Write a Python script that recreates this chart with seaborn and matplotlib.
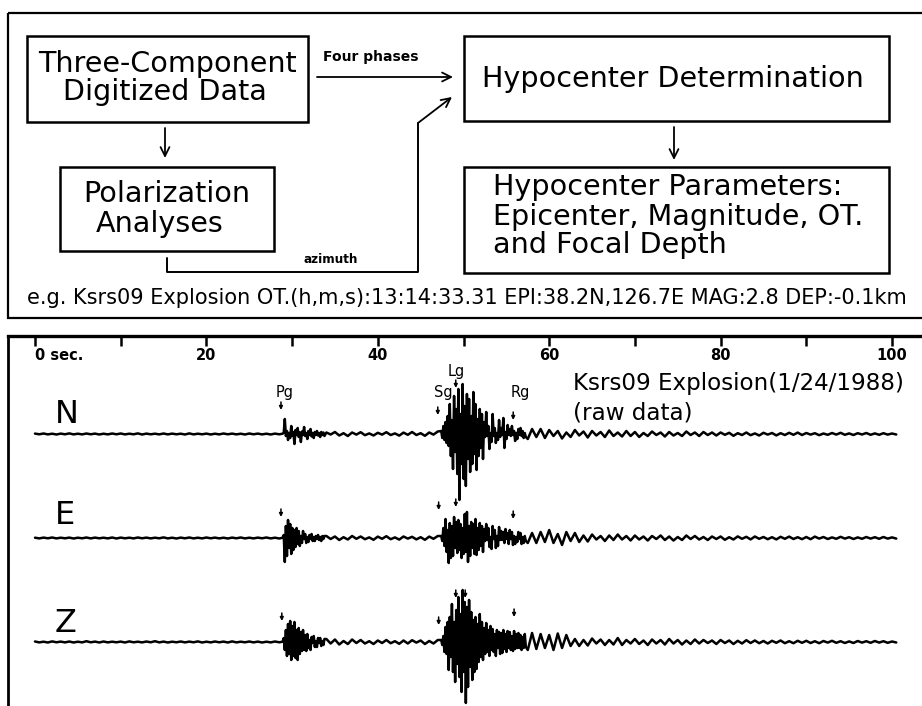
import numpy as np
import pandas as pd
import matplotlib
matplotlib.use("Agg")
import matplotlib.pyplot as plt
from matplotlib.patches import Rectangle
import seaborn as sns

# ---------------------------------------------------------------------------
# Seismogram data.
# Background series: successive peak / trough amplitudes (display units),
# one value every DT seconds from 0 s.  The phase windows are sampled more
# finely (DT_FINE) and replace the background inside their time span.
# ---------------------------------------------------------------------------
DT = 0.5
DT_FINE = 0.125

north = [
    0.4, -0.3, 0.5, -0.4, 0.3, -0.5, 0.4, -0.3, 0.6, -0.4, 0.3, -0.4, 0.5, -0.3, 0.4, -0.5, 0.3, -0.4, 0.5, -0.3,
    0.5, -0.4, 0.3, -0.3, 0.6, -0.5, 0.4, -0.3, 0.3, -0.4, 0.5, -0.4, 0.4, -0.3, 0.3, -0.5, 0.6, -0.4, 0.3, -0.3,
    0.4, -0.5, 0.3, -0.4, 0.5, -0.3, 0.4, -0.4, 0.3, -0.5, 0.5, -0.3, 0.4, -0.4, 0.3, -0.5, 0.4, -0.3, 15.0, -9.0,
    8.0, -10.0, 6.0, -8.0, 7.0, -6.0, 5.0, -7.0, 1.5, -0.5, 2.0, -1.5, 0.8, -2.0, 1.5, -0.6, 1.8, -1.2, 0.6, -1.5,
    1.2, -0.6, 1.8, -1.0, 0.6, -1.6, 1.4, -0.8, 2.0, -1.0, 0.8, -1.8, 1.5, -0.6, 2.5, -3.0, 22.0, -30.0, 45.0, -66.0,
    48.0, -42.0, 35.0, -36.0, 22.0, -24.0, 18.0, -15.0, 16.0, -12.0, 15.0, -14.0, 8.0, -7.0, 6.0, -5.0, 5.0, -3.0, 5.0, -4.0,
    4.0, -2.0, 3.0, -4.5, 1.5, -3.0, 4.0, -1.5, 2.5, -3.5, 3.0, -1.5, 2.0, -3.0, 3.5, -2.0, 1.5, -2.5, 3.0, -2.0,
    2.0, -3.0, 1.0, -2.0, 2.5, -1.0, 1.5, -2.5, 2.0, -1.5, 1.0, -2.0, 2.5, -1.0, 1.5, -2.0, 2.0, -1.0, 1.5, -1.5,
    1.5, -0.8, 1.2, -1.8, 0.8, -1.0, 1.5, -1.2, 0.6, -1.5, 1.2, -0.6, 1.0, -1.4, 0.8, -1.0, 1.2, -0.8, 1.4, -1.0,
    1.0, -0.6, 0.8, -1.2, 0.5, -0.8, 1.0, -0.6, 1.2, -0.8, 0.6, -1.0, 0.8, -0.5, 1.0, -0.8, 0.6, -0.8, 0.8, -0.6, 0.5, -0.5,
]
north_pg = [
    0.3, 1.5, 15.0, -2.0, 3.0, -6.0, 1.0, -4.0,
    8.0, -1.5, 2.0, -10.0, 4.0, -1.0, 6.0, -3.0,
    1.5, -8.0, 2.5, -1.0, 7.0, -2.0, 1.0, -5.0,
    3.0, -1.0, 5.0, -2.5, 1.0, -4.0, 2.0, -1.0,
    3.0, -1.5, 1.0, -3.0, 2.0, -1.0, 1.5, -2.0,
]
north_s = [
    3.0, -4.0, 8.0, -6.0, 12.0, -9.0, 18.0, -12.0,
    30.0, -22.0, 14.0, -35.0, 38.0, -18.0, 25.0, -40.0,
    45.0, -66.0, 20.0, -30.0, 50.0, -45.0, 28.0, -52.0,
    40.0, -25.0, 35.0, -38.0, 18.0, -30.0, 42.0, -20.0,
    30.0, -36.0, 15.0, -22.0, 25.0, -14.0, 20.0, -25.0,
    12.0, -3.0, 22.0, -2.0, 8.0, -15.0, 1.0, -8.0,
    20.0, -2.0, 6.0, -9.0, 1.0, -6.0, 14.0, -3.0,
    6.0, -1.0, 16.0, -14.0, 2.0, -5.0, 9.0, -1.0,
    5.0, -2.0, 8.0, -1.0, 3.0, -7.0, 1.0, -5.0,
    5.0, -1.0, 6.0, -2.0, 3.0, -4.0, 1.0, -3.0,
]

east = [
    0.3, -0.4, 0.4, -0.3, 0.5, -0.4, 0.3, -0.3, 0.4, -0.5, 0.3, -0.3, 0.5, -0.4, 0.4, -0.3, 0.3, -0.4, 0.5, -0.5,
    0.4, -0.3, 0.3, -0.4, 0.5, -0.3, 0.4, -0.4, 0.3, -0.3, 0.6, -0.4, 0.3, -0.5, 0.4, -0.3, 0.5, -0.4, 0.3, -0.4,
    0.5, -0.3, 0.4, -0.4, 0.3, -0.5, 0.4, -0.3, 0.5, -0.4, 0.3, -0.4, 0.4, -0.3, 0.5, -0.4, 0.3, -0.5, 12.0, -24.0,
    18.0, -16.0, 10.0, -12.0, 8.0, -9.0, 6.0, -6.0, 2.0, -1.0, 1.5, -2.0, 0.8, -1.5, 2.0, -0.8, 1.5, -1.2, 0.6, -1.8,
    1.4, -0.8, 1.8, -1.2, 0.6, -1.6, 1.5, -0.6, 1.2, -1.4, 0.8, -1.8, 1.4, -0.8, 2.0, -2.0, 19.0, -25.0, 21.0, -18.0,
    24.0, -24.0, 19.0, -17.0, 14.0, -13.0, 12.0, -11.0, 10.0, -9.0, 8.0, -9.0, 7.0, -6.0, 6.0, -5.0, 5.0, -5.0, 6.0, -4.0,
    8.0, -5.0, 4.0, -7.0, 6.0, -3.0, 5.0, -4.0, 2.5, -3.5, 3.5, -1.5, 2.0, -3.0, 2.5, -2.0, 3.5, -1.5, 2.0, -2.5,
    2.5, -1.5, 1.5, -2.5, 2.0, -1.0, 2.5, -2.0, 1.5, -2.5, 1.0, -2.0, 2.5, -1.0, 2.0, -1.5, 1.0, -2.0, 1.5, -1.0,
    1.5, -1.8, 0.8, -1.5, 1.6, -0.8, 1.2, -1.4, 1.5, -0.8, 1.0, -1.2, 0.8, -1.4, 1.2, -0.8, 1.4, -1.0, 0.8, -1.2,
    1.0, -1.2, 1.4, -0.6, 1.0, -1.0, 0.6, -0.8, 1.2, -0.6, 0.8, -1.0, 0.6, -0.8, 1.0, -0.6, 0.8, -0.8, 1.0, -0.6, 0.6, -0.6,
]
east_pg = [
    0.3, 3.0, -24.0, 12.0, -18.0, 18.0, -10.0, 14.0,
    -16.0, 10.0, -12.0, 8.0, -9.0, 10.0, -6.0, 7.0,
    -8.0, 2.0, -5.0, 7.0, -1.0, 4.0, -5.0, 1.0,
    -4.0, 3.0, -1.0, 4.0, -3.0, 1.0, -3.0, 2.0,
    -1.0, 3.0, -2.0, 1.0, -3.0, 2.0, -1.0, 2.0,
]
east_s = [
    2.0, -3.0, 10.0, -8.0, 19.0, -14.0, 8.0, -25.0,
    15.0, -20.0, 12.0, -18.0, 21.0, -10.0, 16.0, -15.0,
    18.0, -12.0, 14.0, -20.0, 10.0, -16.0, 24.0, -14.0,
    26.0, -24.0, 12.0, -18.0, 16.0, -10.0, 14.0, -16.0,
    19.0, -17.0, 10.0, -12.0, 15.0, -8.0, 12.0, -14.0,
    9.0, -3.0, 14.0, -2.0, 10.0, -9.0, 1.0, -11.0,
    12.0, -1.0, 8.0, -10.0, 2.0, -8.0, 11.0, -2.0,
    7.0, -2.0, 6.0, -5.0, 9.0, -1.0, 5.0, -6.0,
    8.0, -1.0, 6.0, -7.0, 2.0, -6.0, 1.0, -4.0,
    6.0, -1.0, 5.0, -6.0, 1.0, -5.0, 2.0, -3.0,
]

vertical = [
    0.5, -0.4, 0.3, -0.5, 0.6, -0.3, 0.4, -0.4, 0.5, -0.5, 0.3, -0.4, 0.8, -0.3, 0.4, -0.5, 0.5, -0.4, 0.3, -0.3,
    0.4, -0.5, 0.6, -0.3, 0.3, -0.4, 0.5, -0.3, 0.8, -0.4, 0.4, -0.5, 0.3, -0.3, 0.5, -0.4, 0.4, -0.3, 0.6, -0.5,
    0.3, -0.4, 0.5, -0.3, 0.4, -0.5, 0.6, -0.4, 0.3, -0.3, 0.5, -0.4, 0.4, -0.5, 0.3, -0.4, 0.5, -0.3, 6.0, -14.0,
    21.0, -18.0, 14.0, -12.0, 8.0, -9.0, 7.0, -8.0, 3.0, -1.5, 2.5, -2.5, 1.0, -2.0, 2.5, -1.0, 2.0, -1.5, 0.8, -2.0,
    1.5, -1.0, 2.0, -1.2, 0.8, -1.8, 1.5, -1.5, 1.8, -0.6, 1.5, -2.0, 1.0, -1.5, 2.0, -2.0, 15.0, -28.0, 38.0, -40.0,
    52.0, -61.0, 42.0, -30.0, 28.0, -20.0, 19.0, -14.0, 14.0, -12.0, 12.0, -11.0, 10.0, -9.0, 11.0, -8.0, 9.0, -7.0, 8.0, -6.0,
    7.0, -8.0, 8.5, -6.0, 7.0, -4.0, 3.0, -4.0, 2.0, -3.5, 3.5, -1.5, 2.5, -3.0, 2.0, -2.5, 4.0, -3.0, 2.0, -1.5,
    3.0, -2.0, 1.5, -3.0, 2.5, -1.5, 2.0, -2.5, 3.0, -1.5, 2.0, -2.5, 1.5, -2.0, 2.5, -1.5, 2.0, -1.0, 1.5, -2.0,
    2.0, -1.0, 1.5, -2.0, 1.2, -1.5, 1.8, -1.0, 1.5, -1.2, 1.0, -1.5, 1.2, -0.8, 1.5, -1.2, 0.8, -1.2, 1.2, -0.8,
    1.2, -1.0, 0.8, -1.2, 1.0, -0.6, 1.2, -0.8, 0.8, -1.0, 0.6, -1.0, 1.0, -0.6, 0.8, -0.8, 1.0, -0.6, 0.8, -0.8, 0.5, -0.5,
]
vertical_pg = [
    0.3, 4.0, -8.0, 12.0, -14.0, 18.0, -12.0, 21.0,
    -18.0, 16.0, -14.0, 20.0, -16.0, 12.0, -18.0, 14.0,
    -12.0, 10.0, -9.0, 12.0, -8.0, 7.0, -9.0, 8.0,
    -6.0, 2.0, -8.0, 5.0, -1.0, 6.0, -5.0, 1.0,
    -5.0, 4.0, -1.0, 4.0, -4.0, 1.0, -3.0, 3.0,
]
vertical_s = [
    2.0, -3.0, 6.0, -10.0, 15.0, -12.0, 20.0, -28.0,
    25.0, -15.0, 38.0, -30.0, 20.0, -40.0, 32.0, -22.0,
    45.0, -35.0, 28.0, -50.0, 52.0, -30.0, 40.0, -61.0,
    35.0, -45.0, 42.0, -25.0, 30.0, -38.0, 22.0, -30.0,
    25.0, -27.0, 18.0, -20.0, 28.0, -15.0, 20.0, -18.0,
    14.0, -12.0, 19.0, -10.0, 12.0, -14.0, 16.0, -8.0,
    13.0, -10.0, 8.0, -14.0, 12.0, -6.0, 10.0, -12.0,
    9.0, -11.0, 12.0, -7.0, 8.0, -10.0, 11.0, -6.0,
    10.0, -8.0, 6.0, -9.0, 11.0, -7.0, 8.0, -6.0,
    9.0, -6.0, 7.0, -8.0, 5.0, -6.0, 8.0, -5.0,
]

components = ["N", "E", "Z"]
background = {"N": north, "E": east, "Z": vertical}
PG_START, S_START = 28.9, 47.4      # start times of the finely sampled windows
windows = {
    "N": [(PG_START, north_pg), (S_START, north_s)],
    "E": [(PG_START, east_pg), (S_START, east_s)],
    "Z": [(PG_START, vertical_pg), (S_START, vertical_s)],
}

tick_values = [0, 10, 20, 30, 40, 50, 60, 70, 80, 90, 100]
tick_label_values = [0, 20, 40, 60, 80, 100]
tick_labels = ["0 sec.", "20", "40", "60", "80", "100"]

phase_names = ["Pg", "Sg", "Lg", "Rg"]
phase_label_times = [29.1, 47.6, 49.2, 56.6]
# picked arrival times (s) marked on each component
picks = {
    "N": [28.7, 47.0, 49.1, 55.8],
    "E": [28.7, 47.1, 49.1, 55.8],
    "Z": [28.8, 47.1, 49.1, 50.2, 55.9],
}

event_title = "Ksrs09 Explosion(1/24/1988)"
event_note = "(raw data)"
event_line = ("e.g. Ksrs09 Explosion OT.(h,m,s):13:14:33.31 "
              "EPI:38.2N,126.7E MAG:2.8 DEP:-0.1km")

# ---------------------------------------------------------------------------
sns.set_style("white")
plt.rcParams["font.family"] = ["DejaVu Sans"]
plt.rcParams["text.color"] = "black"

W, H = 922, 706
fig = plt.figure(figsize=(W / 100, H / 100), dpi=100)
fig.patch.set_facecolor("white")

# Flow-chart layer in pixel coordinates
ax0 = fig.add_axes([0, 0, 1, 1])
ax0.set_xlim(0, W)
ax0.set_ylim(H, 0)
ax0.axis("off")


def box(x0, y0, x1, y1, lw=1.8):
    ax0.add_patch(Rectangle((x0, y0), x1 - x0, y1 - y0, fill=False,
                            ec="black", lw=lw, clip_on=True))


box(8, 13, 940, 318, lw=1.6)          # frame of the flow chart
box(27, 36, 308, 122)
box(60, 167, 274, 251)                # Polarization Analyses
box(464, 36, 889, 121)                # Hypocenter Determination
box(464, 167, 889, 273)               # Hypocenter Parameters

arrow_kw = dict(arrowstyle="->", lw=1.3, color="black", mutation_scale=16,
                shrinkA=0, shrinkB=0)
ax0.annotate("", xy=(165, 158), xytext=(165, 128), arrowprops=arrow_kw)
ax0.annotate("", xy=(674, 160), xytext=(674, 127), arrowprops=arrow_kw)
ax0.annotate("", xy=(453, 77), xytext=(317, 77), arrowprops=arrow_kw)
# azimuth path from the polarization box into the hypocenter box
ax0.plot([167, 167, 418, 418], [258, 272, 272, 123], color="black", lw=1.4)
ax0.annotate("", xy=(452, 97), xytext=(418, 123), arrowprops=arrow_kw)

box_lines = [
    ("Three-Component", 167, 72, "center", 250),
    ("Digitized Data", 165, 100, "center", 204),
    ("Polarization", 167, 202, "center", 171),
    ("Analyses", 160, 232, "center", 124),
    ("Hypocenter Determination", 673, 87, "center", 379),
    ("Hypocenter Parameters:", 493, 195, "left", 361),
    ("Epicenter, Magnitude, OT.", 493, 225, "left", 366),
    ("and Focal Depth", 493, 253, "left", 243),
]

fig.canvas.draw()
renderer = fig.canvas.get_renderer()


def fit(txt, width):
    bb = txt.get_window_extent(renderer)
    size = txt.get_fontsize() * width / bb.width
    txt.set_fontsize(size)
    return size


texts, sizes = [], []
for s, x, y, ha, wpx in box_lines:
    t = ax0.text(x, y, s, ha=ha, va="baseline", fontsize=18, color="black")
    sizes.append(fit(t, wpx))
    texts.append(t)
common = float(np.mean(sizes))
for t in texts:
    t.set_fontsize(common)

t = ax0.text(323, 61, "Four phases", ha="left", va="baseline",
             fontsize=8, fontweight="bold")
fit(t, 95)
t = ax0.text(303, 263, "azimuth", ha="left", va="baseline",
             fontsize=8, fontweight="bold")
fit(t, 54)
t = ax0.text(27, 304, event_line, ha="left", va="baseline", fontsize=14)
fit(t, 883)

# ---------------------------------------------------------------------------
# Seismogram panel: x in seconds, y in display units below the top frame
PX_PER_S = (892 - 35) / 100.0
left_px, top_px = 8, 336
ax = fig.add_axes([left_px / W, 0, (W - left_px) / W, (H - top_px) / H])
ax.set_facecolor("none")
ax.set_xlim((left_px - 35) / PX_PER_S, (W - 35) / PX_PER_S)
ax.set_ylim(-(H - top_px), 0)

baselines = {"N": -98, "E": -202, "Z": -306}

frames = []
for comp in components:
    vals = np.asarray(background[comp], dtype=float)
    times = np.arange(len(vals)) * DT
    keep = np.ones(len(vals), dtype=bool)
    t_parts, v_parts = [], []
    for start, seg in windows[comp]:
        seg = np.asarray(seg, dtype=float)
        seg_t = start + np.arange(len(seg)) * DT_FINE
        keep &= ~((times >= start) & (times < start + len(seg) * DT_FINE))
        t_parts.append(seg_t)
        v_parts.append(seg)
    t_all = np.concatenate([times[keep]] + t_parts)
    v_all = np.concatenate([vals[keep]] + v_parts)
    order = np.argsort(t_all)
    frames.append(pd.DataFrame({
        "time": t_all[order],
        "trace": v_all[order] + baselines[comp],
        "component": comp,
    }))
df = pd.concat(frames, ignore_index=True)
for comp in components:
    sns.lineplot(data=df[df.component == comp], x="time", y="trace",
                 estimator=None, sort=False, color="black", lw=1.8, ax=ax)

ax.set_xlabel("")
ax.set_ylabel("")
ax.set_yticks([])
ax.set_xticks(tick_values)
ax.xaxis.set_ticks_position("top")
ax.tick_params(axis="x", direction="in", length=7, width=1.8, top=True,
               bottom=False, labeltop=False, labelbottom=False, color="black")
for side in ("right", "bottom"):
    ax.spines[side].set_visible(False)
for side, lw in (("top", 2.4), ("left", 2.0)):
    ax.spines[side].set_linewidth(lw)
    ax.spines[side].set_color("black")

for v, lab in zip(tick_label_values, tick_labels):
    ax.text(v, -(360 - top_px), lab, ha="left" if v == 0 else "center",
            va="baseline", fontsize=10.5, fontweight="bold")

# component names
name_pos = {"N": 423, "E": 524, "Z": 632}
for comp in components:
    ax.text((55 - 35) / PX_PER_S, -(name_pos[comp] - top_px), comp,
            ha="left", va="baseline", fontsize=23)

# phase names above the north component
label_base = {"Pg": 397, "Sg": 397, "Lg": 376, "Rg": 397}
for name, tm in zip(phase_names, phase_label_times):
    ax.text(tm, -(label_base[name] - top_px), name, ha="center",
            va="baseline", fontsize=10.5)

# pick arrows: tip height above each trace (display units)
tip_heights = {
    "N": [24, 19, 46, 14],
    "E": [21, 28, 31, 19],
    "Z": [21, 17, 44, 44, 25],
}
pick_kw = dict(arrowstyle="-|>", lw=1.1, color="black", mutation_scale=5,
               shrinkA=0, shrinkB=0)
for comp in components:
    for tm, hgt in zip(picks[comp], tip_heights[comp]):
        y_tip = baselines[comp] + hgt
        ax.annotate("", xy=(tm, y_tip), xytext=(tm, y_tip + 8),
                    arrowprops=pick_kw)

t_title = ax.text((573 - 35) / PX_PER_S, -(390 - top_px), event_title,
                  ha="left", va="baseline", fontsize=13)
fit(t_title, 331)
ax.text((573 - 35) / PX_PER_S, -(420 - top_px), event_note, ha="left",
        va="baseline", fontsize=t_title.get_fontsize())

fig.savefig("out.png", dpi=100, facecolor="white")
